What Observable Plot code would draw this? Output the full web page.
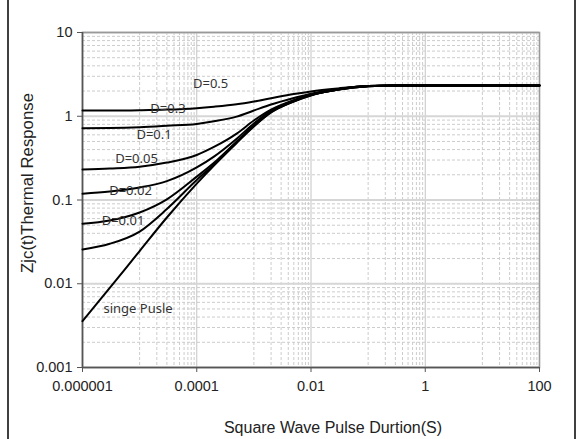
<!DOCTYPE html>
<html><head><meta charset="utf-8">
<script src="https://cdn.jsdelivr.net/npm/d3@7"></script>
<script src="https://cdn.jsdelivr.net/npm/@observablehq/plot@0.6"></script>
<style>body{margin:0;background:#fff;}#chart svg{display:block;}</style>
</head><body><div id="chart"></div>
<script>
// pulse duration samples (s)
const pulseWidths = [1e-6, 3e-6, 1e-5, 3e-5, 1e-4, 2e-4, 5e-4, 1e-3, 2e-3, 5e-3, 1e-2, 3e-2, 0.1, 0.3, 1, 10, 100];
// thermal response values
const zD05   = [1.17, 1.17, 1.18, 1.20, 1.25, 1.30, 1.39, 1.50, 1.64, 1.84, 1.98, 2.15, 2.30, 2.33, 2.33, 2.33, 2.33];
const zD03   = [0.72, 0.724, 0.74, 0.77, 0.81, 0.87, 0.99, 1.17, 1.38, 1.65, 1.86, 2.12, 2.30, 2.33, 2.33, 2.33, 2.33];
const zD01   = [0.231, 0.238, 0.25, 0.28, 0.345, 0.43, 0.62, 0.89, 1.20, 1.56, 1.82, 2.10, 2.29, 2.33, 2.33, 2.33, 2.33];
const zD005  = [0.1186, 0.126, 0.141, 0.168, 0.245, 0.33, 0.54, 0.82, 1.17, 1.54, 1.80, 2.09, 2.29, 2.33, 2.33, 2.33, 2.33];
const zD002  = [0.052, 0.057, 0.071, 0.102, 0.19, 0.278, 0.50, 0.776, 1.14, 1.52, 1.79, 2.08, 2.28, 2.33, 2.33, 2.33, 2.33];
const zD001  = [0.0257, 0.030, 0.042, 0.078, 0.173, 0.266, 0.49, 0.77, 1.12, 1.51, 1.79, 2.08, 2.28, 2.33, 2.33, 2.33, 2.33];
const zSingle= [0.00357, 0.0089, 0.0246, 0.0618, 0.157, 0.258, 0.48, 0.755, 1.11, 1.50, 1.77, 2.08, 2.28, 2.33, 2.33, 2.33, 2.33];
const seriesNames = ["D=0.5", "D=0.3", "D=0.1", "D=0.05", "D=0.02", "D=0.01", "singe Pusle"];
const seriesValues = [zD05, zD03, zD01, zD005, zD002, zD001, zSingle];
// curve label anchors (data units)
const labelText = ["D=0.5", "D=0.3", "D=0.1", "D=0.05", "D=0.02", "D=0.01", "singe Pusle"];
const labelX = [1.75e-4, 3.14e-5, 1.79e-5, 8.83e-6, 6.93e-6, 5.12e-6, 9.38e-6];
const labelY = [2.46, 1.24, 0.597, 0.313, 0.13, 0.0569, 0.00506];
// ticks
const xTicks = [1e-6, 1e-4, 1e-2, 1, 100];
const xTickLabels = ["0.000001", "0.0001", "0.01", "1", "100"];
const yTicks = [0.001, 0.01, 0.1, 1, 10];
const yTickLabels = ["0.001", "0.01", "0.1", "1", "10"];
const xTitle = "Square Wave Pulse Durtion(S)";
const yTitle = "Zjc(t)Thermal Response";

const rows = seriesNames.flatMap((name, s) => pulseWidths.map((t, i) => ({series: name, t, z: seriesValues[s][i]})));
const labels = labelText.map((text, i) => ({text, x: labelX[i], y: labelY[i]}));

// minor gridlines
const xMinor = [];
xTicks.slice(0, -1).forEach(b => { for (let j = 1; j <= 9; j++) xMinor.push(+(j * b * 10).toPrecision(6)); });
const yMinor = [];
yTicks.slice(0, -1).forEach(b => { for (let j = 2; j <= 9; j++) yMinor.push(+(j * b).toPrecision(6)); });

const FONT = "'Liberation Sans', Arial, sans-serif";
const chart = Plot.plot({
  width: 583, height: 439,
  marginLeft: 82, marginRight: 44, marginTop: 32, marginBottom: 72,
  x: {type: "log", domain: [1e-6, 100]},
  y: {type: "log", domain: [0.001, 10]},
  style: {fontFamily: FONT, background: "#fff", color: "#222"},
  marks: [
    Plot.ruleX(xMinor, {stroke: "#cccccc", strokeDasharray: "3,2"}),
    Plot.ruleY(yMinor, {stroke: "#cccccc", strokeDasharray: "3,2"}),
    Plot.ruleX(xTicks, {stroke: "#c4c4c4"}),
    Plot.ruleY(yTicks, {stroke: "#d6d6d6", strokeWidth: 2}),
    Plot.frame({stroke: "#999", strokeWidth: 1.6}),
    Plot.axisX({ticks: xTicks, tickFormat: d => xTickLabels[xTicks.indexOf(d)], tickSize: 5, tickPadding: 8, fontSize: 14.5, label: null, stroke: "#555", fill: "#222"}),
    Plot.axisY({ticks: yTicks, tickFormat: d => yTickLabels[yTicks.indexOf(d)], tickSize: 5, tickPadding: 5, fontSize: 14.5, label: null, stroke: "#555", fill: "#222"}),
    Plot.ruleX([1e-6], {stroke: "#555", strokeWidth: 1.6}),
    Plot.ruleY([0.001], {stroke: "#555", strokeWidth: 1.6}),
    Plot.line(rows, {x: "t", y: "z", z: "series", stroke: "#000", strokeWidth: 2, curve: "monotone-x"}),
    Plot.text(labels, {x: "x", y: "y", text: "text", fontFamily: "'Noto Sans', sans-serif", fontSize: 13, fill: "#333"})
  ]
});
const svg = d3.select(chart);
svg.append("text").text(yTitle)
  .attr("transform", "translate(27,183) rotate(-90)")
  .attr("text-anchor", "middle").attr("dominant-baseline", "central")
  .attr("font-family", FONT).attr("font-size", 16.8).attr("fill", "#222");
svg.append("text").text(xTitle)
  .attr("x", 333).attr("y", 427)
  .attr("text-anchor", "middle").attr("dominant-baseline", "central")
  .attr("font-family", FONT).attr("font-size", 16).attr("fill", "#222");
[8, 575].forEach(x => svg.append("line").attr("x1", x).attr("x2", x).attr("y1", 0).attr("y2", 439).attr("stroke", "#000").attr("stroke-width", 1.5));
document.getElementById("chart").appendChild(chart);
</script>
</body></html>
